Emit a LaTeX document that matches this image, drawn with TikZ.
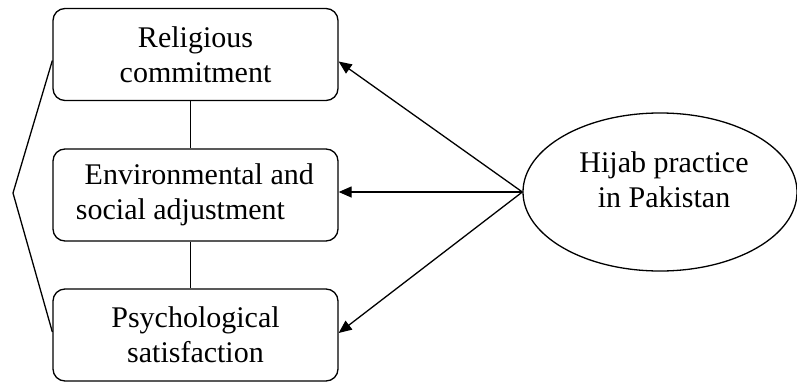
\documentclass[tikz,border=0pt]{standalone}
\usepackage{fontspec}
\setmainfont{Liberation Serif}
\usetikzlibrary{shapes.geometric,arrows.meta}
\begin{document}
\begin{tikzpicture}[x=1pt,y=-1pt,
  boxnode/.style={draw,line width=1.3pt,rounded corners=12pt,minimum width=285pt,minimum height=92pt,inner sep=0pt,align=center,font=\fontsize{30}{35}\selectfont},
  ell/.style={draw,line width=1.3pt,ellipse,minimum width=274pt,minimum height=158pt,inner sep=0pt},
  lbl/.style={align=center,font=\fontsize{30}{35}\selectfont,inner sep=0pt},
  conn/.style={line width=1.3pt},
  arr/.style={line width=1.3pt,-{Triangle[length=13pt,width=11pt]}}]
\useasboundingbox (0,0) rectangle (797,383);
\node[boxnode] (b1) at (195.5,54.5) {Religious\\commitment};
\node[boxnode] (b2) at (195.5,195) {~Environmental and\\social adjustment\hspace*{1em}};
\node[boxnode] (b3) at (195.5,335) {Psychological\\satisfaction};
\node[ell] (h) at (660,192) {};
\node[lbl] (ht) at (664,180) {Hijab practice\\in Pakistan};
\coordinate (apex) at (13,193);
\draw[conn] ([xshift=-5pt]b1.south) -- ([xshift=-5pt]b2.north);
\draw[conn] ([xshift=-5pt]b2.south) -- ([xshift=-5pt]b3.north);
\draw[conn] ([yshift=-6pt]b1.west) -- (apex) -- ([yshift=3pt]b3.west);
\draw[arr] (h.west) -- ([yshift=-7pt]b1.east);
\draw[arr] (h.west) -- (h.west -| b2.east);
\draw[arr] (h.west) -- ([yshift=2pt]b3.east);
\end{tikzpicture}
\end{document}
